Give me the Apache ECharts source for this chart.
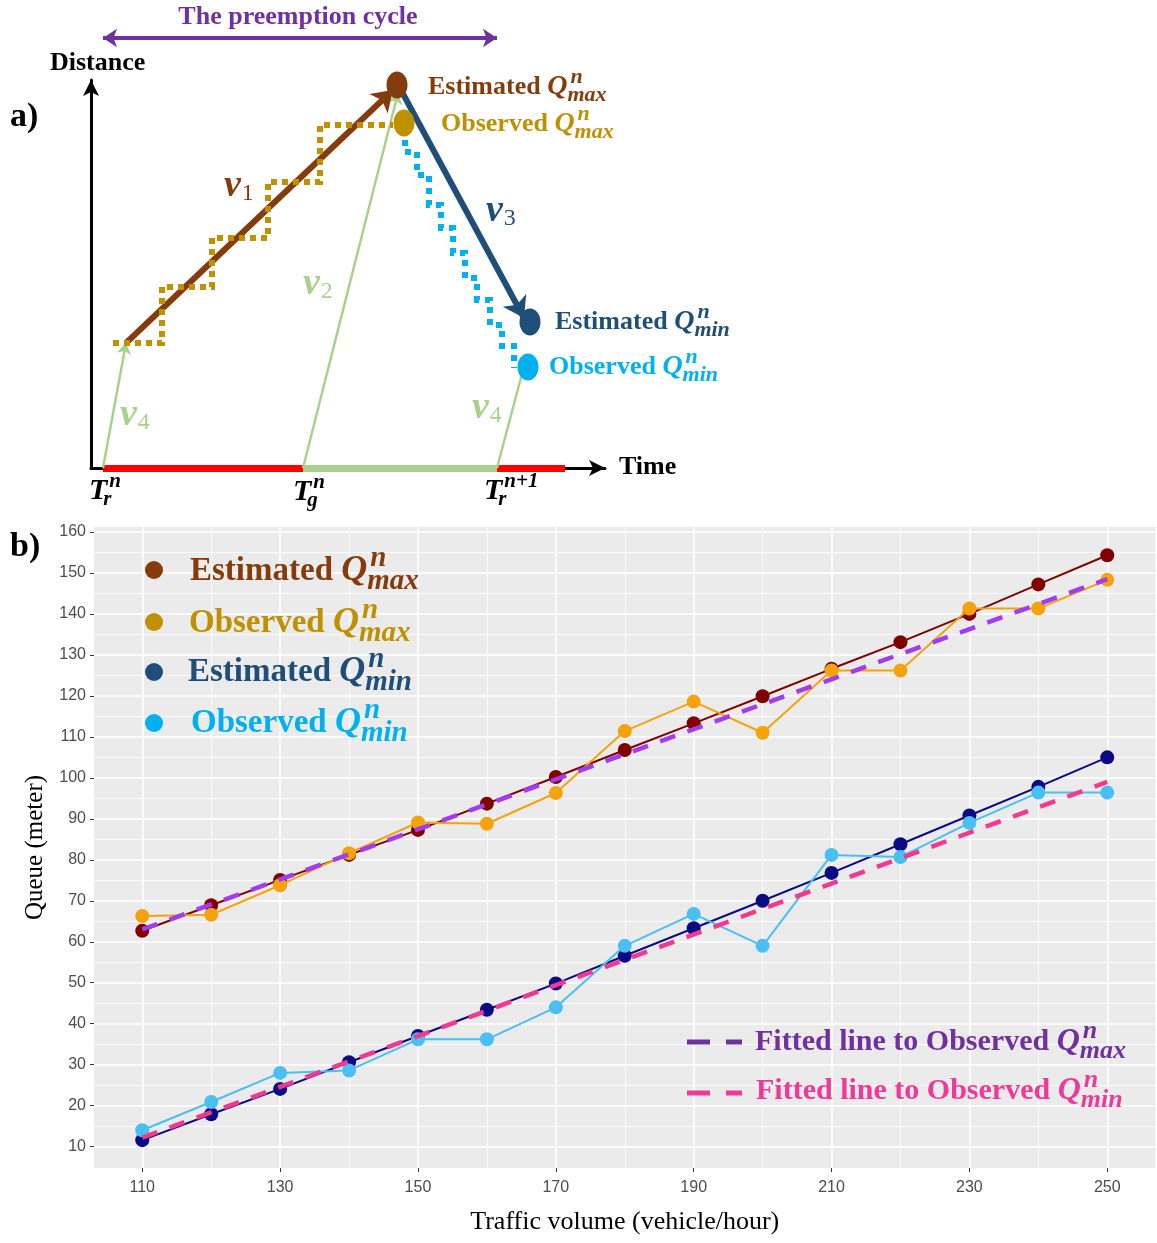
<!DOCTYPE html>
<html><head><meta charset="utf-8">
<script src="https://cdn.jsdelivr.net/npm/echarts@6/dist/echarts.min.js"></script>
<style>html,body{margin:0;padding:0;background:#fff}#c{width:1157px;height:1243px}</style>
</head><body><div id="c"></div>
<script>
// ---------------- Panel b data ----------------
const volumes = [110, 120, 130, 140, 150, 160, 170, 180, 190, 200, 210, 220, 230, 240, 250];
const estMax  = [62.7, 68.9, 75.1, 81.2, 87.3, 93.7, 100.2, 106.8, 113.3, 119.9, 126.6, 133.1, 140.0, 147.2, 154.3];
const obsMax  = [66.3, 66.6, 73.8, 81.6, 89.1, 88.8, 96.3, 111.4, 118.6, 111.0, 126.2, 126.2, 141.3, 141.3, 148.3];
const estMin  = [11.6, 17.9, 24.1, 30.6, 37.0, 43.4, 49.8, 56.6, 63.3, 70.0, 76.8, 83.8, 90.8, 97.8, 105.0];
const obsMin  = [14.0, 20.9, 28.0, 28.6, 36.2, 36.2, 44.0, 59.0, 66.8, 59.0, 81.2, 80.7, 89.0, 96.4, 96.4];
const fitMaxX = [110, 250];
const fitMaxY = [63.0, 148.5];
const fitMinX = [110, 250];
const fitMinY = [12.2, 99.0];
const xTicks  = [110, 130, 150, 170, 190, 210, 230, 250];
const xMinor  = [120, 140, 160, 180, 200, 220, 240];
const yTicks  = [10, 20, 30, 40, 50, 60, 70, 80, 90, 100, 110, 120, 130, 140, 150, 160];
const yMinor  = [15, 25, 35, 45, 55, 65, 75, 85, 95, 105, 115, 125, 135, 145, 155];

// ---------------- Panel a (schematic) data, abstract time/distance units ----------------
const phaseStart = [0, 10, 19.7];      // T_r^n, T_g^n, T_r^{n+1}
const phaseEnd   = [10, 19.7, 23.1];
const v4Left  = [[0, 0], [1.15, 6.25]];
const v2Line  = [[10, 0], [14.75, 18.75]];
const v4Right = [[19.7, 0], [21.2, 5.65]];
const v1Line  = [[1.15, 6.25], [14.5, 18.9]];
const v3Line  = [[14.95, 18.8], [21.05, 7.5]];
const cycleSpan = [[0, 21.5], [19.7, 21.5]];
const goldSteps = [[0.5, 6.25], [2.95, 6.25], [2.95, 9.05], [5.45, 9.05], [5.45, 11.5], [8.25, 11.5],
                   [8.25, 14.3], [10.85, 14.3], [10.85, 17.15], [14.5, 17.15]];
const cyanSteps = [[15.1, 16.4], [15.1, 15.8], [15.7, 15.8], [15.7, 14.65], [16.3, 14.65], [16.3, 13.15],
                   [16.9, 13.15], [16.9, 12.0], [17.5, 12.0], [17.5, 10.75], [18.1, 10.75], [18.1, 9.5],
                   [18.7, 9.5], [18.7, 8.4], [19.35, 8.4], [19.35, 7.15], [19.95, 7.15], [19.95, 6.1],
                   [20.55, 6.1], [20.55, 5.0]];
const qEstMax = [14.7, 19.15];
const qObsMax = [15.05, 17.25];
const qEstMin = [21.35, 7.3];
const qObsMin = [21.25, 5.05];

// ---------------- helpers ----------------
const SERIF = '"Liberation Serif","Times New Roman",serif';
const SANS = '"Liberation Sans",Arial,sans-serif';
const ZTOP = 100;
const mctx = document.createElement('canvas').getContext('2d');
function tw(t, f) { mctx.font = f; return mctx.measureText(t).width; }
function txt(x, y, text, font, fill, align) {
  return { type: 'text', x: x, y: y, silent: true, z: ZTOP,
    style: { text: text, font: font, fill: fill, verticalAlign: 'middle', align: align || 'left' } };
}
// word + base symbol with stacked super/subscript
function scripted(o) {
  const kids = [];
  let cx = o.x;
  if (o.prefix) {
    const f = 'bold ' + o.size + 'px ' + SERIF;
    kids.push(txt(cx, o.y, o.prefix, f, o.color));
    cx += tw(o.prefix, f);
  }
  const bs = o.bsize || o.size;
  const fb = (o.baseStyle || 'italic bold') + ' ' + bs + 'px ' + SERIF;
  kids.push(txt(cx, o.y, o.base, fb, o.color));
  cx += tw(o.base, fb);
  const ss = Math.round(bs * (o.scale || 0.72));
  const fs = (o.scriptStyle || 'italic bold') + ' ' + ss + 'px ' + SERIF;
  if (o.sup) kids.push(txt(cx + (o.supDx || 0), o.y - bs * (o.supUp || 0.36), o.sup, fs, o.color));
  if (o.sub) kids.push(txt(cx + (o.subDx || 0), o.y + bs * (o.subDown || 0.3), o.sub, fs, o.color));
  return { type: 'group', children: kids, silent: true, z: ZTOP };
}
function qLabel(x, y, word, sub, color, size) {
  return scripted({ x: x, y: y, prefix: word + ' ', base: 'Q', sup: 'n', sub: sub, color: color,
    size: size, bsize: Math.round(size * 1.08), scale: 0.8, supDx: 3, subDx: 0, supUp: 0.34, subDown: 0.3 });
}
const pairs = (xs, ys) => xs.map((x, i) => [x, ys[i]]);

// colours
const C = {
  brown: '#843C0C', gold: '#BF9000', navy: '#1F4E79', cyan: '#00B0F0', green: '#A9D18E',
  red: '#FF0000', purple: '#7030A0', pink: '#EE3A96',
  lEstMax: '#800000', lObsMax: '#F5A30C', lEstMin: '#0A0A86', lObsMin: '#49BFF2',
  lFitMax: '#A13CF0', lFitMin: '#F2398E'
};

// gridlines for panel b (drawn through the axis scale with markLine)
const gridMarks = [];
yTicks.forEach(v => gridMarks.push({ yAxis: v, lineStyle: { color: '#fff', width: 1.5, type: 'solid' } }));
yMinor.forEach(v => gridMarks.push({ yAxis: v, lineStyle: { color: '#fff', width: 0.8, type: 'solid' } }));
xTicks.forEach(v => gridMarks.push({ xAxis: v, lineStyle: { color: '#fff', width: 1.5, type: 'solid' } }));
xMinor.forEach(v => gridMarks.push({ xAxis: v, lineStyle: { color: '#fff', width: 0.8, type: 'solid' } }));

const chart = echarts.init(document.getElementById('c'), null, { renderer: 'canvas' });

const lineSeries = (name, xs, ys, color, z) => ({
  name: name, type: 'line', xAxisIndex: 0, yAxisIndex: 0, data: pairs(xs, ys),
  symbol: 'circle', symbolSize: 14, showSymbol: true, z: z,
  lineStyle: { color: color, width: 2 }, itemStyle: { color: color, opacity: 1 }, emphasis: { disabled: true }
});
const fitSeries = (name, xs, ys, color, z) => ({
  name: name, type: 'line', xAxisIndex: 0, yAxisIndex: 0, data: pairs(xs, ys),
  symbol: 'none', z: z, lineStyle: { color: color, width: 4.5, type: [16, 13] }, emphasis: { disabled: true }
});
const linesSeries = (data, color, width, symbol, symbolSize, extra) => Object.assign({
  type: 'lines', coordinateSystem: 'cartesian2d', xAxisIndex: 1, yAxisIndex: 1,
  data: data, symbol: symbol, symbolSize: symbolSize, silent: true, clip: false,
  lineStyle: { color: color, width: width, opacity: 1, curveness: 0 }, z: 3
}, extra || {});

const phaseColors = [C.red, C.green, C.red];
const tOpts = { color: '#000', size: 30, scale: 0.7, supDx: 2, subDx: -4, supUp: 0.33, subDown: 0.3 };
const vOpts = { size: 38, scriptStyle: 'normal', scale: 0.62, subDx: 1, subDown: 0.2 };

const graphics = [
  // panel a texts
  txt(298, 17, 'The preemption cycle', 'bold 26px ' + SERIF, C.purple, 'center'),
  txt(50, 63, 'Distance', 'bold 26px ' + SERIF, '#000'),
  txt(10, 117, 'a)', 'bold 34px ' + SERIF, '#000'),
  txt(619, 467, 'Time', 'bold 26px ' + SERIF, '#000'),
  scripted(Object.assign({ x: 89, y: 491, base: 'T', sup: 'n', sub: 'r' }, tOpts)),
  scripted(Object.assign({ x: 293, y: 492, base: 'T', sup: 'n', sub: 'g' }, tOpts)),
  scripted(Object.assign({ x: 484, y: 491, base: 'T', sup: 'n+1', sub: 'r' }, tOpts)),
  scripted(Object.assign({ x: 224, y: 186, base: 'v', sub: '1', color: C.brown }, vOpts)),
  scripted(Object.assign({ x: 486, y: 211, base: 'v', sub: '3', color: C.navy }, vOpts)),
  scripted(Object.assign({ x: 303, y: 284, base: 'v', sub: '2', color: C.green }, vOpts)),
  scripted(Object.assign({ x: 120, y: 415, base: 'v', sub: '4', color: C.green }, vOpts)),
  scripted(Object.assign({ x: 472, y: 408, base: 'v', sub: '4', color: C.green }, vOpts)),
  qLabel(428, 87, 'Estimated', 'max', C.brown, 26),
  qLabel(441, 124, 'Observed', 'max', C.gold, 26),
  qLabel(555, 322, 'Estimated', 'min', C.navy, 26),
  qLabel(549, 367, 'Observed', 'min', C.cyan, 26),
  // panel b label
  txt(10, 547, 'b)', 'bold 34px ' + SERIF, '#000'),
  // panel b legend (top-left)
  { type: 'circle', shape: { cx: 154, cy: 570, r: 9 }, style: { fill: C.brown }, silent: true, z: ZTOP },
  { type: 'circle', shape: { cx: 154, cy: 622, r: 9 }, style: { fill: C.gold }, silent: true, z: ZTOP },
  { type: 'circle', shape: { cx: 154, cy: 672, r: 9 }, style: { fill: C.navy }, silent: true, z: ZTOP },
  { type: 'circle', shape: { cx: 154, cy: 723, r: 9 }, style: { fill: C.cyan }, silent: true, z: ZTOP },
  qLabel(190, 571, 'Estimated', 'max', C.brown, 33),
  qLabel(189, 623, 'Observed', 'max', C.gold, 33),
  qLabel(188, 672, 'Estimated', 'min', C.navy, 33),
  qLabel(191, 723, 'Observed', 'min', C.cyan, 33),
  // fitted-line legend
  { type: 'line', shape: { x1: 687, y1: 1042, x2: 710, y2: 1042 }, style: { stroke: C.purple, lineWidth: 5 }, silent: true, z: ZTOP },
  { type: 'line', shape: { x1: 726, y1: 1042, x2: 742, y2: 1042 }, style: { stroke: C.purple, lineWidth: 5 }, silent: true, z: ZTOP },
  { type: 'line', shape: { x1: 687, y1: 1093, x2: 710, y2: 1093 }, style: { stroke: C.pink, lineWidth: 5 }, silent: true, z: ZTOP },
  { type: 'line', shape: { x1: 726, y1: 1093, x2: 742, y2: 1093 }, style: { stroke: C.pink, lineWidth: 5 }, silent: true, z: ZTOP },
  qLabel(755, 1042, 'Fitted line to Observed', 'max', C.purple, 30),
  qLabel(756, 1091, 'Fitted line to Observed', 'min', C.pink, 30)
];

const option = {
  animation: false,
  backgroundColor: '#ffffff',
  grid: [
    { left: 94, top: 527, width: 1061.5, height: 641, show: true, backgroundColor: '#EBEBEB', borderWidth: 0 },
    { left: 91, top: 80, width: 514, height: 388, show: false }
  ],
  xAxis: [
    { gridIndex: 0, type: 'value', min: 103, max: 257,
      axisLine: { show: false },
      axisTick: { show: true, customValues: xTicks, length: 4, lineStyle: { color: '#333', width: 1 } },
      axisLabel: { customValues: xTicks, color: '#4D4D4D', fontSize: 16, fontFamily: SANS, margin: 12 },
      splitLine: { show: false },
      name: 'Traffic volume (vehicle/hour)', nameLocation: 'middle', nameGap: 41,
      nameTextStyle: { fontFamily: SERIF, fontSize: 26, color: '#000' } },
    { gridIndex: 1, type: 'value', min: -0.6, max: 25.1,
      axisLine: { show: true, onZero: false, symbol: ['none', 'arrow'], symbolSize: [12, 16], lineStyle: { color: '#000', width: 3 } },
      axisTick: { show: false }, axisLabel: { show: false }, splitLine: { show: false } }
  ],
  yAxis: [
    { gridIndex: 0, type: 'value', min: 4.8, max: 161.2,
      axisLine: { show: false },
      axisTick: { show: true, customValues: yTicks, length: 4, lineStyle: { color: '#333', width: 1 } },
      axisLabel: { customValues: yTicks, color: '#4D4D4D', fontSize: 16, fontFamily: SANS, margin: 8 },
      splitLine: { show: false },
      name: 'Queue (meter)', nameLocation: 'middle', nameGap: 34, nameRotate: 90,
      nameTextStyle: { fontFamily: SERIF, fontSize: 25, color: '#000' } },
    { gridIndex: 1, type: 'value', min: 0, max: 19.4,
      axisLine: { show: true, onZero: false, symbol: ['none', 'arrow'], symbolSize: [12, 16], lineStyle: { color: '#000', width: 3 } },
      axisTick: { show: false }, axisLabel: { show: false }, splitLine: { show: false } }
  ],
  graphic: graphics,
  series: [
    // panel b
    { type: 'line', xAxisIndex: 0, yAxisIndex: 0, data: [], z: 1, silent: true,
      markLine: { z: 1, silent: true, symbol: ['none', 'none'], label: { show: false }, animation: false,
        emphasis: { disabled: true }, lineStyle: { color: '#fff', type: 'solid' }, data: gridMarks } },
    lineSeries('Estimated Qmax', volumes, estMax, C.lEstMax, 3),
    lineSeries('Observed Qmax', volumes, obsMax, C.lObsMax, 4),
    lineSeries('Estimated Qmin', volumes, estMin, C.lEstMin, 5),
    lineSeries('Observed Qmin', volumes, obsMin, C.lObsMin, 6),
    fitSeries('Fitted Qmax', fitMaxX, fitMaxY, C.lFitMax, 7),
    fitSeries('Fitted Qmin', fitMinX, fitMinY, C.lFitMin, 8),
    // panel a
    linesSeries(phaseStart.map((s, i) => ({ coords: [[s, 0], [phaseEnd[i], 0]], lineStyle: { color: phaseColors[i] } })),
      C.red, 7, 'none', 0),
    linesSeries([v4Left, v2Line, v4Right].map(c => ({ coords: c })), C.green, 2.5, ['none', 'arrow'], 11),
    linesSeries([{ coords: v1Line }], C.brown, 6, ['none', 'arrow'], 20, { z: 4 }),
    linesSeries([{ coords: v3Line }], C.navy, 6, ['none', 'arrow'], 20, { z: 4 }),
    linesSeries([{ coords: goldSteps }], C.gold, 6, 'none', 0, { polyline: true, z: 5,
      lineStyle: { color: C.gold, width: 6, opacity: 1, type: [6, 5] } }),
    linesSeries([{ coords: cyanSteps }], C.cyan, 6, 'none', 0, { polyline: true, z: 5,
      lineStyle: { color: C.cyan, width: 6, opacity: 1, type: [6, 6] } }),
    linesSeries([{ coords: cycleSpan }], C.purple, 4, ['arrow', 'arrow'], 14),
    { type: 'scatter', xAxisIndex: 1, yAxisIndex: 1, clip: false, silent: true, z: 6,
      symbol: 'circle', symbolSize: [21, 27],
      data: [
        { value: qEstMax, itemStyle: { color: C.brown, opacity: 1 } },
        { value: qObsMax, itemStyle: { color: C.gold, opacity: 1 } },
        { value: qEstMin, itemStyle: { color: C.navy, opacity: 1 } },
        { value: qObsMin, itemStyle: { color: C.cyan, opacity: 1 } }
      ] }
  ]
};
chart.setOption(option);
</script>
</body></html>
